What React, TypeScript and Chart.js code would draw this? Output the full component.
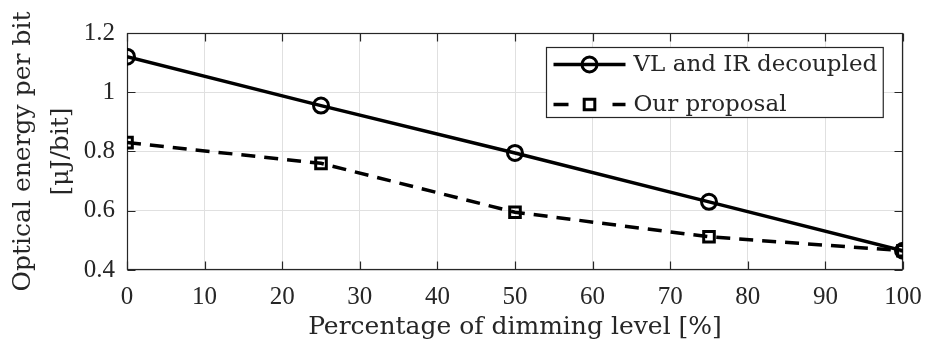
import { useEffect, useRef } from "react";
import { Chart, registerables } from "chart.js";

Chart.register(...registerables);

const dimmingLevels = [0, 25, 50, 75, 100];
const decoupledEnergy = [1.12, 0.955, 0.795, 0.63, 0.465];
const proposalEnergy = [0.83, 0.76, 0.595, 0.512, 0.465];
const seriesLabels = ["VL and IR decoupled", "Our proposal"];
const xTitle = "Percentage of dimming level [%]";
const yTitle = ["Optical energy per bit", "[μJ/bit]"];

const AXIS = "#262626";
const GRID = "#e0e0e0";
const TICK_FONT = "'Liberation Serif', serif";
const TEXT_FONT = "'DejaVu Serif', serif";

function strokeMarker(ctx: CanvasRenderingContext2D, style: string, x: number, y: number, r: number) {
  ctx.beginPath();
  if (style === "rect") {
    const s = Math.SQRT1_2 * r;
    ctx.rect(x - s, y - s, 2 * s, 2 * s);
  } else {
    ctx.arc(x, y, r, 0, Math.PI * 2);
  }
  ctx.stroke();
}

const framePlugin = {
  id: "frame",
  beforeDatasetsDraw(chart: any) {
    const { ctx, chartArea: a, scales } = chart;
    const L = Math.round(a.left) + 0.5;
    const R = Math.round(a.right) - 0.5;
    const T = Math.round(a.top) + 0.5;
    const B = Math.round(a.bottom) - 0.5;
    const tl = 8;
    ctx.save();
    ctx.strokeStyle = AXIS;
    ctx.lineWidth = 1.2;
    ctx.strokeRect(L, T, R - L, B - T);
    ctx.beginPath();
    for (const t of scales.x.ticks) {
      const px = Math.round(scales.x.getPixelForValue(t.value)) + 0.5;
      ctx.moveTo(px, B);
      ctx.lineTo(px, B - tl);
      ctx.moveTo(px, T);
      ctx.lineTo(px, T + tl);
    }
    for (const t of scales.y.ticks) {
      const py = Math.round(scales.y.getPixelForValue(t.value)) + 0.5;
      ctx.moveTo(L, py);
      ctx.lineTo(L + tl, py);
      ctx.moveTo(R, py);
      ctx.lineTo(R - tl, py);
    }
    ctx.stroke();
    ctx.restore();
  },
};

const legendPlugin = {
  id: "boxLegend",
  afterDraw(chart: any) {
    const { ctx, chartArea: a } = chart;
    const datasets = chart.data.datasets;
    ctx.save();
    ctx.font = `23px ${TEXT_FONT}`;
    let maxW = 0;
    for (const d of datasets) maxW = Math.max(maxW, ctx.measureText(d.label).width);
    const sample = 72;
    const padL = 7;
    const gap = 8;
    const padR = 6;
    const rowH = 40;
    const w = padL + sample + gap + maxW + padR;
    const h = rowH * datasets.length - 10;
    const x0 = Math.round(a.right - 20 - w) + 0.5;
    const y0 = Math.round(a.top + 14) + 0.5;
    ctx.fillStyle = "#ffffff";
    ctx.fillRect(x0, y0, w, h);
    ctx.strokeStyle = AXIS;
    ctx.lineWidth = 1.2;
    ctx.strokeRect(x0, y0, w, h);
    datasets.forEach((d: any, i: number) => {
      const cy = y0 + 17 + i * rowH;
      const sx = x0 + padL;
      ctx.strokeStyle = d.borderColor;
      ctx.lineWidth = d.borderWidth;
      ctx.setLineDash(d.borderDash && d.borderDash.length ? [15, 44] : []);
      ctx.beginPath();
      ctx.moveTo(sx, cy);
      ctx.lineTo(sx + sample, cy);
      ctx.stroke();
      ctx.setLineDash([]);
      ctx.lineWidth = d.pointBorderWidth;
      strokeMarker(ctx, d.pointStyle, sx + sample / 2, cy, d.pointRadius);
      ctx.fillStyle = AXIS;
      ctx.textAlign = "left";
      ctx.textBaseline = "middle";
      ctx.fillText(d.label, sx + sample + gap, cy + 1);
    });
    ctx.restore();
  },
};

export default function App() {
  const canvasRef = useRef<HTMLCanvasElement | null>(null);

  useEffect(() => {
    document.body.style.margin = "0";
    const canvas = canvasRef.current;
    if (!canvas) return;
    const chart = new Chart(canvas, {
      type: "line",
      data: {
        datasets: [
          {
            label: seriesLabels[0],
            data: dimmingLevels.map((x, i) => ({ x, y: decoupledEnergy[i] })),
            borderColor: "#000000",
            borderWidth: 3.5,
            pointStyle: "circle",
            pointRadius: 7.5,
            pointBorderWidth: 3,
            pointBorderColor: "#000000",
            pointBackgroundColor: "rgba(0,0,0,0)",
            tension: 0,
          },
          {
            label: seriesLabels[1],
            data: dimmingLevels.map((x, i) => ({ x, y: proposalEnergy[i] })),
            borderColor: "#000000",
            borderWidth: 3.5,
            borderDash: [14, 9],
            pointStyle: "rect",
            pointRadius: 7.5,
            pointBorderWidth: 3,
            pointBorderColor: "#000000",
            pointBackgroundColor: "rgba(0,0,0,0)",
            tension: 0,
          },
        ],
      },
      options: {
        responsive: false,
        animation: false,
        devicePixelRatio: 1,
        layout: { padding: { left: 0, top: 33, right: 22, bottom: 0 } },
        plugins: { legend: { display: false }, tooltip: { enabled: false } },
        scales: {
          x: {
            type: "linear",
            min: 0,
            max: 100,
            border: { display: false },
            grid: { color: GRID, lineWidth: 1, drawTicks: false },
            ticks: {
              stepSize: 10,
              padding: 12,
              color: AXIS,
              font: { family: TICK_FONT, size: 25 },
              maxRotation: 0,
              autoSkip: false,
            },
            title: {
              display: true,
              text: xTitle,
              color: AXIS,
              font: { family: TEXT_FONT, size: 25, lineHeight: 1.2 },
              padding: { top: 0, bottom: 1 },
            },
            afterFit: (scale: any) => {
              scale.height = 73;
              scale.paddingLeft = 0;
              scale.paddingRight = 0;
            },
          },
          y: {
            type: "linear",
            min: 0.4,
            max: 1.2,
            border: { display: false },
            grid: { color: GRID, lineWidth: 1, drawTicks: false },
            ticks: {
              stepSize: 0.2,
              padding: 12,
              color: AXIS,
              font: { family: TICK_FONT, size: 25 },
              callback: (v: any) => String(Number(Number(v).toFixed(1))),
            },
            title: {
              display: true,
              text: yTitle,
              color: AXIS,
              font: { family: TEXT_FONT, size: 25, lineHeight: 1.52 },
              padding: { top: 4, bottom: 0 },
            },
            afterFit: (scale: any) => {
              scale.width = 127;
              scale.paddingTop = 0;
              scale.paddingBottom = 0;
            },
          },
        },
      },
      plugins: [framePlugin, legendPlugin],
    } as any);
    return () => chart.destroy();
  }, []);

  return (
    <div style={{ position: "absolute", left: 0, top: 0, width: 925, height: 343, background: "#ffffff" }}>
      <canvas ref={canvasRef} width={925} height={343} style={{ display: "block" }} />
    </div>
  );
}
